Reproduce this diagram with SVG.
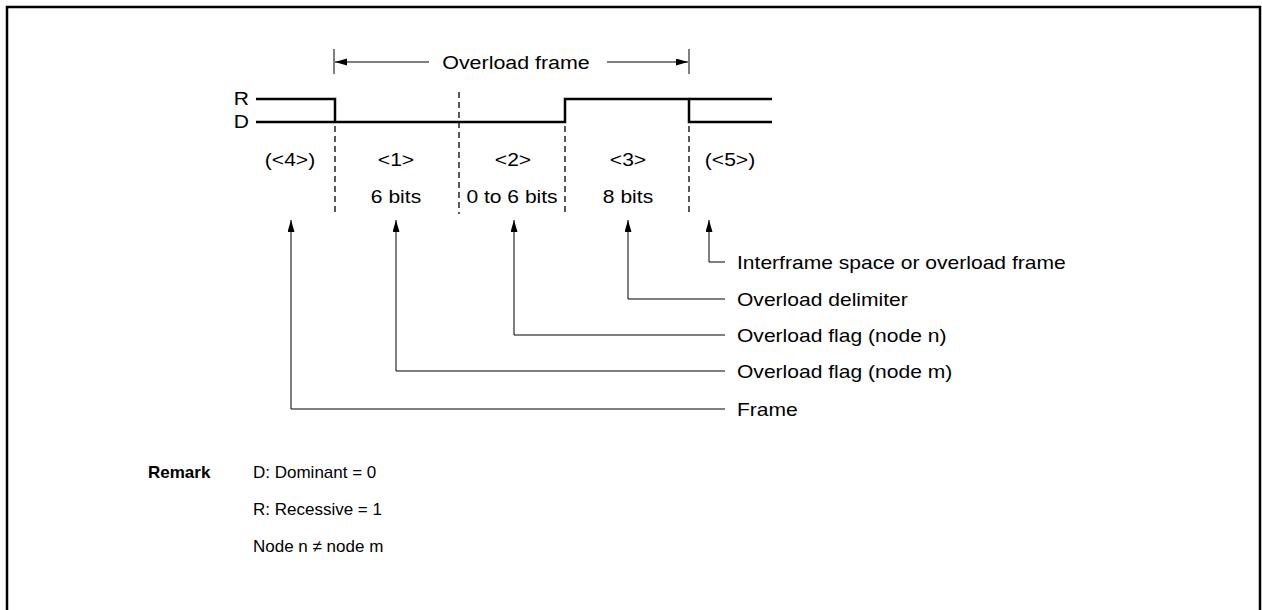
<svg xmlns="http://www.w3.org/2000/svg" width="1262" height="610" viewBox="0 0 1262 610">
<style>
text{font-family:"Liberation Sans",Arial,sans-serif;font-size:18px;fill:#000}
.c{text-anchor:middle}
.e{text-anchor:end}
.r{font-size:17px}
.w{fill:none;stroke:#000;stroke-width:2.5}
.d{fill:none;stroke:#000;stroke-width:1.3;stroke-dasharray:6,4}
.l{fill:none;stroke:#000;stroke-width:1}
.b{font-weight:bold}
</style>
<defs>
<marker id="ah" markerWidth="14" markerHeight="8" refX="12" refY="3.5" orient="auto" markerUnits="userSpaceOnUse">
<path d="M0,0 L12,3.5 L0,7 Z" fill="#000"/>
</marker>
</defs>
<rect x="7" y="7" width="1253" height="620" fill="none" stroke="#000" stroke-width="2.5"/>

<g id="overload-frame">
<line class="l" x1="334" y1="49" x2="334" y2="74"/>
<line class="l" x1="689" y1="49" x2="689" y2="74"/>
<line class="l" x1="429" y1="62" x2="335" y2="62" marker-end="url(#ah)"/>
<line class="l" x1="607" y1="62" x2="688" y2="62" marker-end="url(#ah)"/>
<text class="c" transform="translate(516,69) scale(1.19,1)">Overload frame</text>
</g>

<g id="waveform">
<text class="e" transform="translate(249,105) scale(1.17,1)">R</text>
<text class="e" transform="translate(249,128) scale(1.17,1)">D</text>
<path class="w" d="M256,99 H335 V122 H565 V99 H689 V122 H772"/>
<path class="w" d="M256,122 H335"/>
<path class="w" d="M689,99 H772"/>
</g>

<g id="dividers">
<line class="d" x1="335" y1="126" x2="335" y2="214"/>
<line class="d" x1="459" y1="92" x2="459" y2="214"/>
<line class="d" x1="565" y1="126" x2="565" y2="214"/>
<line class="d" x1="689" y1="126" x2="689" y2="214"/>
</g>

<g id="field-4"><text class="c" transform="translate(290,166) scale(1.17,1)">(&lt;4&gt;)</text></g>
<g id="field-1"><text class="c" transform="translate(396,166) scale(1.17,1)">&lt;1&gt;</text><text class="c" transform="translate(396,203) scale(1.17,1)">6 bits</text></g>
<g id="field-2"><text class="c" transform="translate(513,166) scale(1.17,1)">&lt;2&gt;</text><text class="c" transform="translate(512,203) scale(1.17,1)">0 to 6 bits</text></g>
<g id="field-3"><text class="c" transform="translate(628,166) scale(1.17,1)">&lt;3&gt;</text><text class="c" transform="translate(628,203) scale(1.17,1)">8 bits</text></g>
<g id="field-5"><text class="c" transform="translate(730,166) scale(1.17,1)">(&lt;5&gt;)</text></g>

<g id="connectors">
<path class="l" d="M725,262 H709 V220" marker-end="url(#ah)"/>
<path class="l" d="M725,299 H628 V220" marker-end="url(#ah)"/>
<path class="l" d="M725,335 H514 V220" marker-end="url(#ah)"/>
<path class="l" d="M725,371 H396 V220" marker-end="url(#ah)"/>
<path class="l" d="M725,409 H291 V220" marker-end="url(#ah)"/>
</g>

<g id="labels">
<text transform="translate(737,269) scale(1.17,1)">Interframe space or overload frame</text>
<text transform="translate(737,306) scale(1.17,1)">Overload delimiter</text>
<text transform="translate(737,342) scale(1.17,1)">Overload flag (node n)</text>
<text transform="translate(737,378) scale(1.17,1)">Overload flag (node m)</text>
<text transform="translate(737,416) scale(1.17,1)">Frame</text>
</g>

<g id="remark">
<text class="b r" x="148" y="478">Remark</text>
<text class="r" x="253" y="478">D: Dominant = 0</text>
<text class="r" x="253" y="515">R: Recessive = 1</text>
<text class="r" x="253" y="552">Node n ≠ node m</text>
</g>
</svg>
